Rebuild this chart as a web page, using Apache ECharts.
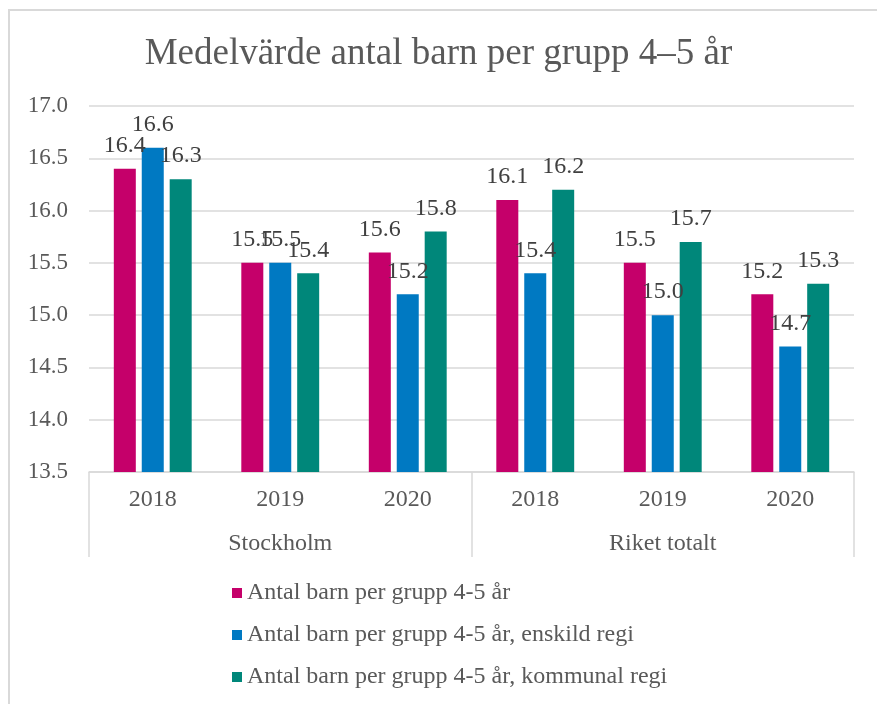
<!DOCTYPE html>
<html>
<head>
<meta charset="utf-8">
<script src="https://cdn.jsdelivr.net/npm/echarts@6/dist/echarts.min.js"></script>
<style>
  html, body { margin: 0; padding: 0; background: #fff; }
  #chart { width: 877px; height: 704px; }
</style>
</head>
<body>
<div id="chart"></div>
<script>
  const years = ['2018', '2019', '2020', '2018', '2019', '2020'];
  const regions = ['Stockholm', 'Riket totalt'];
  const seriesNames = [
    'Antal barn per grupp 4-5 år',
    'Antal barn per grupp 4-5 år, enskild regi',
    'Antal barn per grupp 4-5 år, kommunal regi',
  ];
  const totalValues = [16.4, 15.5, 15.6, 16.1, 15.5, 15.2];
  const enskildValues = [16.6, 15.5, 15.2, 15.4, 15.0, 14.7];
  const kommunalValues = [16.3, 15.4, 15.8, 16.2, 15.7, 15.3];
  const colors = ['#c5006a', '#0079c2', '#00877a'];

  const font = 'Liberation Serif';
  const chart = echarts.init(document.getElementById('chart'));

  const makeSeries = (name, data, color) => ({
    name,
    type: 'bar',
    xAxisIndex: 0,
    data,
    barWidth: 22,
    barGap: '27%',
    itemStyle: { color },
    label: {
      show: true,
      position: 'top',
      distance: 11,
      fontFamily: font,
      fontSize: 24,
      color: '#404040',
      formatter: (p) => p.value.toFixed(1),
    },
  });

  chart.setOption({
    animation: false,
    title: {
      text: 'Medelvärde antal barn per grupp 4–5 år',
      left: 'center',
      top: 31,
      textStyle: { fontFamily: font, fontSize: 37, fontWeight: 'normal', color: '#595959' },
    },
    graphic: [
      {
        type: 'rect',
        shape: { x: 9, y: 10, width: 920, height: 760 },
        style: { fill: 'none', stroke: '#d9d9d9', lineWidth: 2 },
        silent: true,
      },
    ],
    grid: { left: 89, right: 23, top: 106, bottom: 232 },
    legend: {
      orient: 'vertical',
      left: 232,
      top: 581,
      padding: 0,
      itemWidth: 10,
      itemHeight: 10,
      itemGap: 18,
      icon: 'rect',
      textStyle: { fontFamily: font, fontSize: 24, color: '#595959' },
      data: seriesNames,
    },
    xAxis: [
      {
        type: 'category',
        data: years,
        axisLine: { lineStyle: { color: '#d9d9d9', width: 1.5 } },
        axisTick: { show: false },
        axisLabel: { fontFamily: font, fontSize: 24, color: '#595959', margin: 16 },
      },
      {
        type: 'category',
        data: regions,
        position: 'bottom',
        axisLine: { show: false },
        axisTick: { show: true, length: 85, lineStyle: { color: '#d9d9d9', width: 1.5 } },
        axisLabel: { fontFamily: font, fontSize: 24, color: '#595959', margin: 60 },
      },
    ],
    yAxis: {
      type: 'value',
      min: 13.5,
      max: 17,
      interval: 0.5,
      axisLine: { show: false },
      axisTick: { show: false },
      axisLabel: {
        fontFamily: font,
        fontSize: 23,
        color: '#595959',
        margin: 21,
        formatter: (v) => v.toFixed(1),
      },
      splitLine: { lineStyle: { color: '#d9d9d9', width: 1.5 } },
    },
    series: [
      makeSeries(seriesNames[0], totalValues, colors[0]),
      makeSeries(seriesNames[1], enskildValues, colors[1]),
      makeSeries(seriesNames[2], kommunalValues, colors[2]),
    ],
  });
</script>
</body>
</html>
